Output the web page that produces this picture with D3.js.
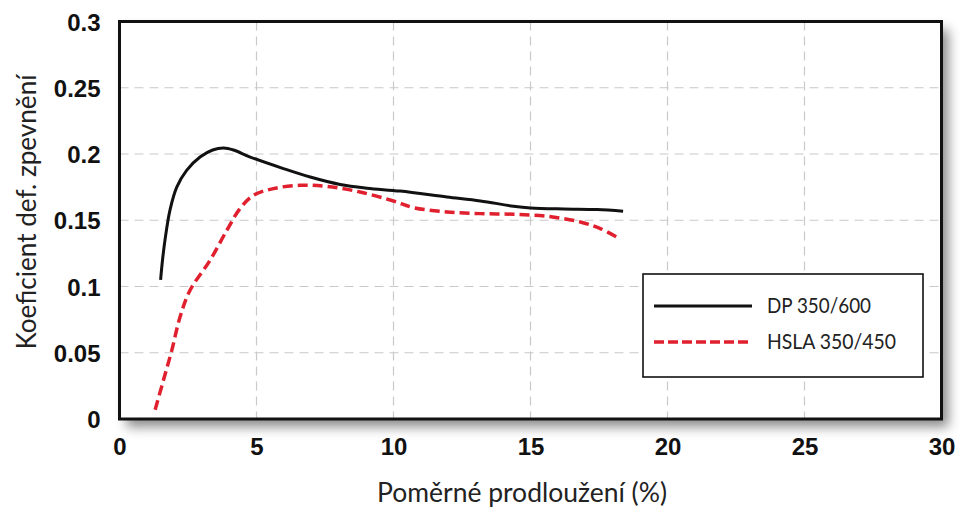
<!DOCTYPE html>
<html>
<head>
<meta charset="utf-8">
<script src="https://cdn.jsdelivr.net/npm/d3@7"></script>
<style>
  html, body { margin: 0; padding: 0; background: #fff; }
  svg { display: block; }
</style>
</head>
<body>
<svg id="chart" width="961" height="509"></svg>
<script>
// ---- data ----
const xTicks = [0, 5, 10, 15, 20, 25, 30];
const yTicks = [0, 0.05, 0.1, 0.15, 0.2, 0.25, 0.3];
const yTickLabels = ["0", "0.05", "0.1", "0.15", "0.2", "0.25", "0.3"];
const seriesNames = ["DP 350/600", "HSLA 350/450"];

const dpX = [1.5, 1.57, 1.66, 1.84, 2.09, 2.45, 2.94, 3.4, 3.8, 4.16, 4.77, 5.98, 6.96, 8.05, 9.03, 10.24, 11.95, 13.17, 14.38, 15.0, 16.21, 17.43, 18.38];
const dpY = [0.105, 0.12, 0.135, 0.1575, 0.175, 0.1877, 0.1977, 0.203, 0.2045, 0.203, 0.1977, 0.189, 0.1826, 0.177, 0.1742, 0.172, 0.1676, 0.1646, 0.1606, 0.1593, 0.1585, 0.1581, 0.1568];

const hslaX = [1.3, 1.6, 1.91, 2.21, 2.57, 3.31, 3.92, 4.4, 4.89, 5.62, 6.59, 7.57, 8.78, 10.0, 10.73, 11.95, 13.17, 14.38, 15.6, 16.82, 17.55, 18.25];
const hslaY = [0.007, 0.029, 0.052, 0.077, 0.097, 0.12, 0.1425, 0.1588, 0.1688, 0.1739, 0.1764, 0.1756, 0.1713, 0.1645, 0.1595, 0.1563, 0.155, 0.1545, 0.153, 0.1487, 0.1437, 0.1362];

const xTitle = "Poměrné prodloužení (%)";
const yTitle = "Koeficient def. zpevnění";

// ---- layout ----
const L = 119.5, R = 941.5, T = 21.5, B = 419;
const svg = d3.select("#chart");

const x = d3.scaleLinear().domain([0, 30]).range([L, R]);
const y = d3.scaleLinear().domain([0, 0.3]).range([B, T]);

// shadow filter
const defs = svg.append("defs");
const f = defs.append("filter").attr("id", "shadow")
  .attr("x", "-5%").attr("y", "-5%").attr("width", "115%").attr("height", "125%");
f.append("feDropShadow").attr("dx", 7).attr("dy", 8).attr("stdDeviation", 6)
  .attr("flood-color", "#000").attr("flood-opacity", 0.45);

svg.append("rect").attr("x", L).attr("y", T).attr("width", R - L).attr("height", B - T)
  .attr("fill", "#fff").attr("filter", "url(#shadow)");

// grid
const grid = svg.append("g").attr("stroke", "#c9c9c9").attr("stroke-width", 1.2).attr("stroke-dasharray", "9,6");
grid.selectAll("line.v").data(xTicks.filter(d => d > 0 && d < 30)).enter().append("line")
  .attr("x1", d => x(d)).attr("x2", d => x(d)).attr("y1", T).attr("y2", B);
grid.selectAll("line.h").data(yTicks.filter(d => d > 0 && d < 0.3)).enter().append("line")
  .attr("x1", L).attr("x2", R).attr("y1", d => y(d)).attr("y2", d => y(d));

// axes (labels only)
const xAxis = d3.axisBottom(x).tickValues(xTicks).tickSize(0).tickPadding(0).tickFormat(d3.format("d"));
const gx = svg.append("g").attr("transform", `translate(0,${B + 19})`).call(xAxis);
gx.select(".domain").remove();
gx.selectAll("text").attr("dy", "0.71em")
  .style("font-family", "'Liberation Sans', Arial, sans-serif").style("font-weight", "bold")
  .style("font-size", "24px").attr("fill", "#111");

const yAxis = d3.axisLeft(y).tickValues(yTicks).tickSize(0).tickPadding(0)
  .tickFormat((d, i) => yTickLabels[i]);
const gy = svg.append("g").attr("transform", `translate(${L - 19},0)`).call(yAxis);
gy.select(".domain").remove();
gy.selectAll("text").attr("dy", "0.36em")
  .style("font-family", "'Liberation Sans', Arial, sans-serif").style("font-weight", "bold")
  .style("font-size", "24px").attr("fill", "#111");

// lines
const line = d3.line().x(d => x(d[0])).y(d => y(d[1])).curve(d3.curveCatmullRom.alpha(0.5));
const dpData = dpX.map((v, i) => [v, dpY[i]]);
const hslaData = hslaX.map((v, i) => [v, hslaY[i]]);

svg.append("path").datum(hslaData).attr("d", line).attr("fill", "none")
  .attr("stroke", "#e0202e").attr("stroke-width", 3.5).attr("stroke-dasharray", "10,5");
svg.append("path").datum(dpData).attr("d", line).attr("fill", "none")
  .attr("stroke", "#111").attr("stroke-width", 3);

// frame
svg.append("rect").attr("x", L).attr("y", T).attr("width", R - L).attr("height", B - T)
  .attr("fill", "none").attr("stroke", "#111").attr("stroke-width", 3);

// legend
const lg = svg.append("g");
lg.append("rect").attr("x", 643).attr("y", 274).attr("width", 280).attr("height", 103)
  .attr("fill", "#fff").attr("stroke", "#111").attr("stroke-width", 1.6);
const legStyles = [
  {stroke: "#111", dash: null, w: 3},
  {stroke: "#e0202e", dash: "10,4", w: 3.5}
];
const legY = [306, 342];
const legW = [104, 129];
seriesNames.forEach((name, i) => {
  lg.append("line").attr("x1", 654).attr("x2", 752).attr("y1", legY[i]).attr("y2", legY[i])
    .attr("stroke", legStyles[i].stroke).attr("stroke-width", legStyles[i].w)
    .attr("stroke-dasharray", legStyles[i].dash);
  lg.append("text").attr("x", 767).attr("y", legY[i]).attr("dy", "0.35em")
    .attr("textLength", legW[i]).attr("lengthAdjust", "spacingAndGlyphs")
    .style("font-family", "Lato, 'Open Sans', sans-serif").style("font-size", "21px")
    .attr("fill", "#222").text(name);
});

// axis titles
svg.append("text").attr("x", 522).attr("y", 493).attr("dy", "0.35em").attr("text-anchor", "middle")
  .attr("textLength", 290).attr("lengthAdjust", "spacingAndGlyphs")
  .style("font-family", "Lato, 'Open Sans', sans-serif").style("font-size", "26px")
  .attr("fill", "#222").text(xTitle);

svg.append("text").attr("transform", "translate(27,212) rotate(-90)").attr("dy", "0.35em")
  .attr("text-anchor", "middle")
  .attr("textLength", 275).attr("lengthAdjust", "spacingAndGlyphs")
  .style("font-family", "Lato, 'Open Sans', sans-serif").style("font-size", "26px")
  .attr("fill", "#222").text(yTitle);
</script>
</body>
</html>
